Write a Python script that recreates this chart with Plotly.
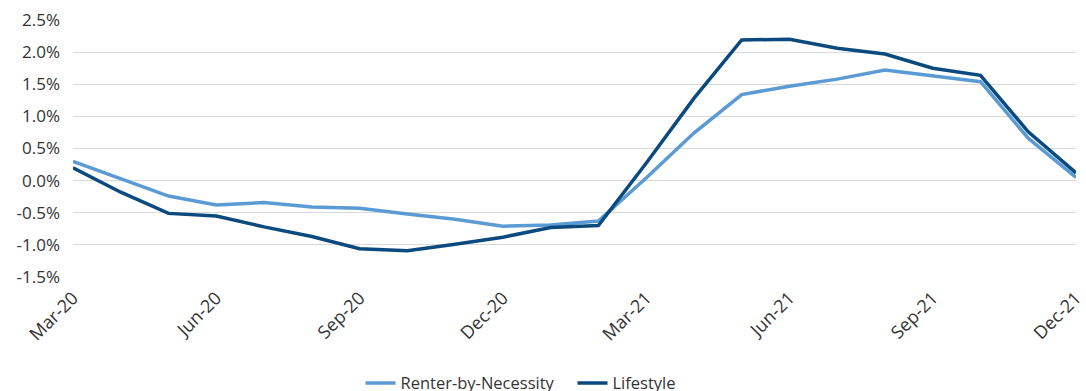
import plotly.graph_objects as go

months = ["Mar-20", "Apr-20", "May-20", "Jun-20", "Jul-20", "Aug-20", "Sep-20", "Oct-20",
          "Nov-20", "Dec-20", "Jan-21", "Feb-21", "Mar-21", "Apr-21", "May-21", "Jun-21",
          "Jul-21", "Aug-21", "Sep-21", "Oct-21", "Nov-21", "Dec-21"]

renter_by_necessity = [0.30, 0.03, -0.24, -0.38, -0.34, -0.41, -0.43, -0.52, -0.60, -0.71,
                       -0.69, -0.63, 0.04, 0.74, 1.34, 1.47, 1.58, 1.72, 1.63, 1.54, 0.66, 0.05]
lifestyle = [0.20, -0.18, -0.51, -0.55, -0.72, -0.87, -1.06, -1.09, -0.99, -0.88,
             -0.73, -0.70, 0.27, 1.28, 2.19, 2.20, 2.06, 1.97, 1.75, 1.64, 0.76, 0.12]

y_ticks = [-1.5, -1.0, -0.5, 0.0, 0.5, 1.0, 1.5, 2.0, 2.5]
y_tick_labels = ["-1.5%", "-1.0%", "-0.5%", "0.0%", "0.5%", "1.0%", "1.5%", "2.0%", "2.5%"]
x_tick_labels = ["Mar-20", "Jun-20", "Sep-20", "Dec-20", "Mar-21", "Jun-21", "Sep-21", "Dec-21"]

FONT = "'Open Sans', Lato, sans-serif"

fig = go.Figure()
fig.add_trace(go.Scatter(x=months, y=renter_by_necessity, mode="lines",
                         name="Renter-by-Necessity",
                         line=dict(color="#5B9BD5", width=3.5)))
fig.add_trace(go.Scatter(x=months, y=lifestyle, mode="lines",
                         name="Lifestyle",
                         line=dict(color="#0B4A7E", width=3.5)))

fig.update_layout(
    width=1086, height=391,
    margin=dict(l=73, r=10, t=20, b=114, autoexpand=False),
    paper_bgcolor="white", plot_bgcolor="white",
    font=dict(family=FONT, size=17, color="#333333"),
    showlegend=True,
    legend=dict(orientation="h", x=0.498, xanchor="center", yref="container",
                y=0.02, yanchor="middle", entrywidth=167,
                font=dict(size=16.5, color="#333333"), tracegroupgap=0),
    annotations=[dict(text="Yardi Matrix", xref="paper", yref="paper", x=-0.073, y=-0.42,
                      xanchor="left", yanchor="top", showarrow=False,
                      font=dict(size=17, color="#333333"))],
)
fig.update_xaxes(type="category", categoryorder="array", categoryarray=months,
                 range=[0, len(months) - 1], automargin=False,
                 tickmode="array", tickvals=x_tick_labels, ticktext=x_tick_labels,
                 tickangle=-45, showgrid=False, showline=False, zeroline=False,
                 ticks="", ticklabelstandoff=6, tickfont=dict(size=18, color="#333333"))
fig.update_yaxes(range=[-1.5, 2.5], tickmode="array", tickvals=y_ticks, ticktext=y_tick_labels,
                 automargin=False, ticklabelstandoff=12,
                 showgrid=True, gridcolor="#D9D9D9", gridwidth=1, zeroline=False,
                 showline=False, ticks="", tickfont=dict(size=17, color="#333333"))

fig.write_html("out.html")
